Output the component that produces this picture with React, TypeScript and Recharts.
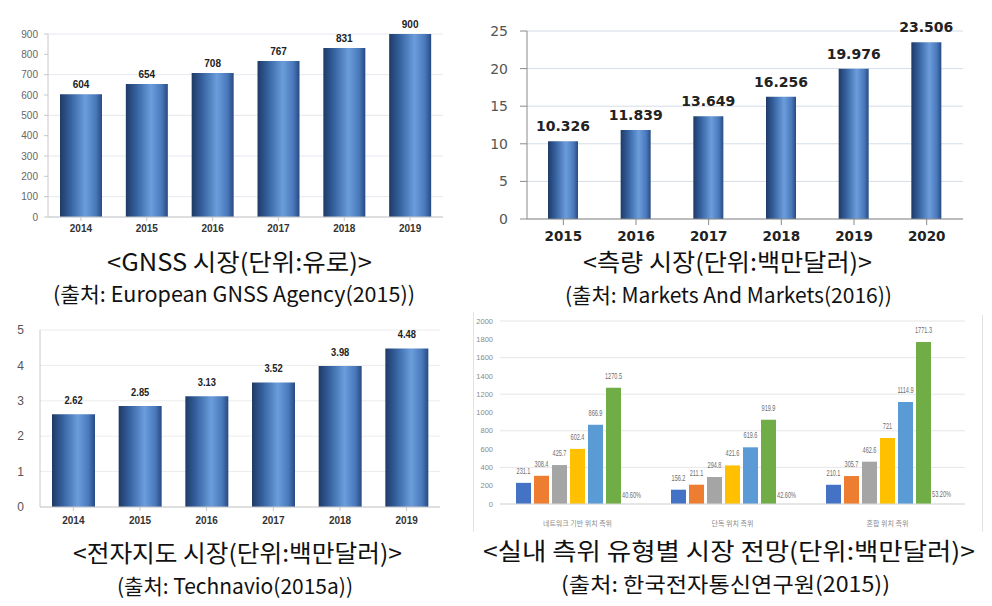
import React from 'react';
import { BarChart, Bar, XAxis, YAxis, CartesianGrid, LabelList } from 'recharts';

const gnssYears = ['2014', '2015', '2016', '2017', '2018', '2019'];
const gnssValues = [604, 654, 708, 767, 831, 900];
const gnssTicks = [0, 100, 200, 300, 400, 500, 600, 700, 800, 900];

const surveyYears = ['2015', '2016', '2017', '2018', '2019', '2020'];
const surveyValues = [10.326, 11.839, 13.649, 16.256, 19.976, 23.506];
const surveyTicks = [0, 5, 10, 15, 20, 25];

const mapYears = ['2014', '2015', '2016', '2017', '2018', '2019'];
const mapValues = [2.62, 2.85, 3.13, 3.52, 3.98, 4.48];
const mapTicks = [0, 1, 2, 3, 4, 5];

const indoorCategories = ['네트워크 기반 위치 측위', '단독 위치 측위', '혼합 위치 측위'];
const indoorS1 = [231.1, 156.2, 210.1];
const indoorS2 = [308.4, 211.1, 305.7];
const indoorS3 = [425.7, 294.8, 462.6];
const indoorS4 = [602.4, 421.6, 721];
const indoorS5 = [866.9, 619.6, 1114.9];
const indoorS6 = [1270.5, 919.9, 1771.3];
const indoorCagr = [40.6, 42.6, 53.2];
const indoorTicks = [0, 200, 400, 600, 800, 1000, 1200, 1400, 1600, 1800, 2000];
const indoorKeys = ['s1', 's2', 's3', 's4', 's5', 's6'];
const indoorColors = ['#4472C4', '#ED7D31', '#A5A5A5', '#FFC000', '#5B9BD5', '#70AD47'];

const gnssData = gnssYears.map((y, i) => ({ year: y, v: gnssValues[i] }));
const surveyData = surveyYears.map((y, i) => ({ year: y, v: surveyValues[i] }));
const mapData = mapYears.map((y, i) => ({ year: y, v: mapValues[i] }));
const indoorData = indoorCategories.map((c, i) => ({
  cat: c,
  s1: indoorS1[i],
  s2: indoorS2[i],
  s3: indoorS3[i],
  s4: indoorS4[i],
  s5: indoorS5[i],
  s6: indoorS6[i],
  cagr: indoorCagr[i],
}));

const captions = [
  { text: '<GNSS 시장(단위:유로)>', x: 107, y: 271, w: 265, size: 24 },
  { text: '(출처: European GNSS Agency(2015))', x: 53, y: 302, w: 362, size: 21 },
  { text: '<측량 시장(단위:백만달러)>', x: 583, y: 271, w: 289, size: 24 },
  { text: '(출처: Markets And Markets(2016))', x: 565, y: 303, w: 327, size: 21 },
  { text: '<전자지도 시장(단위:백만달러)>', x: 73, y: 562, w: 329, size: 24 },
  { text: '(출처: Technavio(2015a))', x: 117, y: 594, w: 236, size: 21 },
  { text: '<실내 측위 유형별 시장 전망(단위:백만달러)>', x: 483, y: 560, w: 492, size: 24 },
  { text: '(출처: 한국전자통신연구원(2015))', x: 561, y: 592, w: 329, size: 21 },
];

const Grad = ({ id }: { id: string }) => (
  <defs>
    <linearGradient id={id} x1="0" y1="0" x2="1" y2="0">
      <stop offset="0%" stopColor="#1f3a66" />
      <stop offset="25%" stopColor="#35619f" />
      <stop offset="60%" stopColor="#6b9ddc" />
      <stop offset="85%" stopColor="#4a79bb" />
      <stop offset="100%" stopColor="#274a82" />
    </linearGradient>
  </defs>
);

const narrowLabel = (opts: { offset: number; size: number; fill: string; weight?: string; sx: number; fmt?: (v: any) => string }) =>
  (props: any) => {
    const { x, y, width, value } = props;
    if (value === undefined || value === null) return null;
    const cx = Number(x) + Number(width) / 2;
    const ty = Number(y) - opts.offset;
    const txt = opts.fmt ? opts.fmt(value) : String(value);
    return (
      <text transform={`translate(${cx},${ty}) scale(${opts.sx},1)`} x={0} y={0} textAnchor="middle"
        fontSize={opts.size} fill={opts.fill} fontWeight={opts.weight || 'normal'} fontFamily="Liberation Sans, Arial">
        {txt}
      </text>
    );
  };

export default function App() {
  return (
    <div style={{ position: 'absolute', left: 0, top: 0, width: 992, height: 606, background: '#fff', overflow: 'hidden' }}>
      {/* Top-left: GNSS */}
      <div style={{ position: 'absolute', left: 0, top: 0 }}>
        <BarChart width={460} height={240} data={gnssData} margin={{ top: 34, right: 17, bottom: 0, left: 0 }}>
          <Grad id="g1" />
          <CartesianGrid vertical={false} stroke="#e4e8ee" />
          <XAxis dataKey="year" height={23} tickSize={4} tickMargin={4} stroke="#c8c8c8"
            tick={{ fill: '#333', fontSize: 10, fontWeight: 'bold', fontFamily: 'Liberation Sans, Arial' }} />
          <YAxis width={48} domain={[0, 900]} ticks={gnssTicks} tickSize={4} tickMargin={6} stroke="#c8c8c8"
            tick={{ fill: '#666', fontSize: 10, fontFamily: 'Liberation Sans, Arial' }} />
          <Bar dataKey="v" fill="url(#g1)" barSize={42} isAnimationActive={false}>
            <LabelList dataKey="v" position="top" offset={6} fill="#222" fontSize={10} fontWeight="bold" fontFamily="Liberation Sans, Arial" />
          </Bar>
        </BarChart>
      </div>

      {/* Top-right: survey */}
      <div style={{ position: 'absolute', left: 480, top: 0 }}>
        <BarChart width={500} height={250} data={surveyData} margin={{ top: 31, right: 17, bottom: 0, left: 0 }}>
          <Grad id="g2" />
          <CartesianGrid vertical={false} stroke="#d5dde8" />
          <XAxis dataKey="year" height={31} tickSize={6} tickMargin={6} stroke="#8a8a8a"
            tick={{ fill: '#222', fontSize: 13.5, fontWeight: 'bold', fontFamily: 'DejaVu Sans, Verdana' }} />
          <YAxis width={47} domain={[0, 25]} ticks={surveyTicks} tickSize={7} tickMargin={12} stroke="#8a8a8a"
            tick={{ fill: '#555', fontSize: 14, fontFamily: 'DejaVu Sans, Verdana' }} />
          <Bar dataKey="v" fill="url(#g2)" barSize={30} isAnimationActive={false}>
            <LabelList dataKey="v" position="top" offset={10} fill="#222" fontSize={14} fontWeight="bold" fontFamily="DejaVu Sans, Verdana"
              formatter={(v: any) => Number(v).toFixed(3)} />
          </Bar>
        </BarChart>
      </div>

      {/* Bottom-left: e-map */}
      <div style={{ position: 'absolute', left: 0, top: 310 }}>
        <BarChart width={460} height={230} data={mapData} margin={{ top: 20, right: 20, bottom: 0, left: 0 }}>
          <Grad id="g3" />
          <CartesianGrid vertical={false} stroke="#ececec" />
          <XAxis dataKey="year" height={33} tickSize={4} tickMargin={6} stroke="#c8c8c8"
            tick={{ fill: '#333', fontSize: 10, fontWeight: 'bold', fontFamily: 'Liberation Sans, Arial' }} />
          <YAxis width={40} domain={[0, 5]} ticks={mapTicks} tickLine={false} tickSize={6} tickMargin={10} stroke="#c8c8c8"
            tick={{ fill: '#555', fontSize: 12, fontFamily: 'Liberation Sans, Arial' }} />
          <Bar dataKey="v" fill="url(#g3)" barSize={43} isAnimationActive={false}>
            <LabelList dataKey="v" content={narrowLabel({ offset: 10, size: 11, fill: '#222', weight: 'bold', sx: 0.85, fmt: (v) => Number(v).toFixed(2) })} />
          </Bar>
        </BarChart>
      </div>

      {/* Bottom-right: indoor positioning */}
      <div style={{ position: 'absolute', left: 473, top: 312, width: 1, height: 220, background: '#e2e2e2' }} />
      <div style={{ position: 'absolute', left: 982, top: 315, width: 1, height: 217, background: '#e2e2e2' }} />
      <div style={{ position: 'absolute', left: 473, top: 310 }}>
        <BarChart width={510} height={230} data={indoorData} margin={{ top: 11, right: 18, bottom: 0, left: 0 }} barGap={3}>
          <CartesianGrid vertical={false} stroke="#e6e6e6" />
          <XAxis dataKey="cat" height={36} tickLine={false} tickSize={0} tickMargin={17} stroke="#d9d9d9"
            tick={{ fill: '#8a8a8a', fontSize: 7, fontFamily: 'Noto Sans CJK KR' }} />
          <YAxis width={27} domain={[0, 2000]} ticks={indoorTicks} axisLine={false} tickLine={false} tickSize={0} tickMargin={7}
            tick={{ fill: '#8a8a8a', fontSize: 7.5, fontFamily: 'Liberation Sans, Arial' }} />
          {indoorKeys.map((k, i) => (
            <Bar key={k} dataKey={k} fill={indoorColors[i]} barSize={15} isAnimationActive={false}>
              <LabelList dataKey={k} content={narrowLabel({ offset: 9, size: 9, fill: '#6e6e6e', sx: 0.62 })} />
            </Bar>
          ))}
          <Bar dataKey="cagr" fill="transparent" barSize={15} isAnimationActive={false}>
            <LabelList dataKey="cagr" content={narrowLabel({ offset: 2, size: 9, fill: '#6e6e6e', sx: 0.62, fmt: (v) => Number(v).toFixed(2) + '%' })} />
          </Bar>
        </BarChart>
      </div>

      {/* Captions */}
      <svg width={992} height={606} style={{ position: 'absolute', left: 0, top: 0, pointerEvents: 'none' }}>
        {captions.map((c, i) => (
          <text key={i} x={c.x} y={c.y} textLength={c.w} lengthAdjust="spacingAndGlyphs" fontSize={c.size}
            fontFamily="Noto Sans CJK KR" fill="#111">
            {c.text}
          </text>
        ))}
      </svg>
    </div>
  );
}
